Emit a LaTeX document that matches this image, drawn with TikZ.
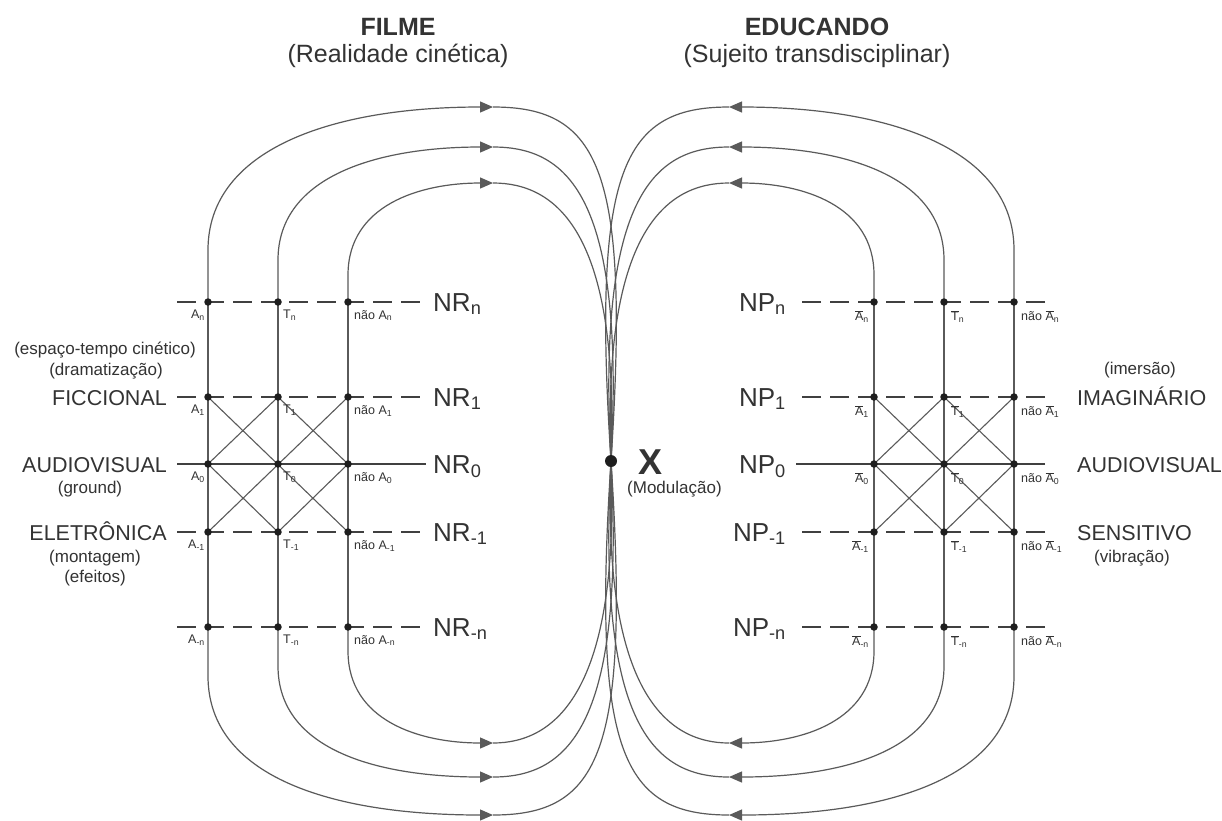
\documentclass[tikz,border=0pt]{standalone}
\usepackage{fontspec}
\setmainfont{Liberation Sans}
\usetikzlibrary{arrows.meta}
\definecolor{wiregray}{HTML}{5A5A5A}
\definecolor{rowgray}{HTML}{404040}
\definecolor{dotgray}{HTML}{1E1E1E}
\definecolor{inkgray}{HTML}{333333}
\newcommand\fsz[1]{\fontsize{#1}{#1}\selectfont}
\newcommand\ob[1]{\ensuremath{\overline{\hbox{#1}}}}

\begin{document}
\begin{tikzpicture}[x=1pt,y=-1pt,
  wire/.style={line width=1.2pt, draw=wiregray},
  flow/.style={wire, -{Triangle[length=13pt,width=11pt]}},
  diag/.style={line width=1.1pt, draw=wiregray},
  rowdash/.style={line width=2.2pt, draw=rowgray, dash pattern=on 19pt off 9pt},
  rowsolid/.style={line width=2pt, draw=rowgray},
  dot/.style={circle, fill=dotgray, inner sep=0pt, minimum size=7.5pt},
  xdot/.style={circle, fill=dotgray, inner sep=0pt, minimum size=12pt},
  ttl/.style={font=\fsz{25}\bfseries, text=inkgray, inner sep=0pt, anchor=base},
  sttl/.style={font=\fsz{25}, text=inkgray, inner sep=0pt, anchor=base},
  lvltxt/.style={font=\fsz{26}, text=inkgray, inner sep=0pt},
  cattxt/.style={font=\fsz{21.5}, text=inkgray, inner sep=0pt},
  notetxt/.style={font=\fsz{17}, text=inkgray, inner sep=0pt},
  tagtxt/.style={font=\fsz{12.5}, text=inkgray, inner sep=0pt}
]
\fill[white] (0,0) rectangle (1222,820);
\useasboundingbox (0,0) rectangle (1222,820);

% modulation point
\coordinate (mx) at (611,461);

% lattice points of both sides (mirrored about x = 611)
\foreach \side/\s/\dA/\dN in {L/-1/403/263, R/1/263/403}{
  \foreach \cl/\dd in {A/\dA, T/333, N/\dN}{
    \foreach \rw/\yy in {n/302, 1/397, 0/464, m/532, k/627}{
      \coordinate (\side\cl\rw) at ({611+(\s)*(\dd)},\yy);
    }
  }
  \foreach \rw/\yy in {n/302, 1/397, 0/464, m/532, k/627}{
    \coordinate (\side o\rw) at ({611+(\s)*434},\yy);
    \coordinate (\side i\rw) at ({611+(\s)*185},\yy);
  }
}

% levels, columns and crossings
\foreach \side in {L,R}{
  \foreach \rw in {n,1,m,k} \draw[rowdash] (\side o\rw) -- (\side i\rw);
  \draw[rowsolid] (\side o0) -- (\side i0);
  \foreach \cl in {A,T,N} \draw[wire] (\side\cl n) -- (\side\cl k);
  \draw[diag] (\side A1) -- (\side Nm);
  \draw[diag] (\side Am) -- (\side N1);
  \draw[diag] (\side T1) -- (\side A0) -- (\side Tm) -- (\side N0) -- cycle;
}

% flow loops from the columns into the modulation point
\foreach \side/\s/\co/\cm/\ci in {L/-1/A/T/N, R/1/N/T/A}{
  \coordinate (\side uo) at ({611+(\s)*118},107);
  \coordinate (\side um) at ({611+(\s)*118},147);
  \coordinate (\side ui) at ({611+(\s)*118},183);
  \coordinate (\side do) at ({611+(\s)*118},815);
  \coordinate (\side dm) at ({611+(\s)*118},777);
  \coordinate (\side di) at ({611+(\s)*118},743);
  % upper arcs
  \draw[flow] (\side\co n) -- ({611+(\s)*403},250) .. controls ({611+(\s)*403},150) and ({611+(\s)*281},107) .. (\side uo);
  \draw[wire] (\side uo) .. controls ({611+(\s)*11},107) and ({611+(\s)*(-19)},170) .. (mx);
  \draw[flow] (\side\cm n) -- ({611+(\s)*333},260) .. controls ({611+(\s)*333},175) and ({611+(\s)*231},147) .. (\side um);
  \draw[wire] (\side um) .. controls ({611+(\s)*41},147) and ({611+(\s)*(-14)},200) .. (mx);
  \draw[flow] (\side\ci n) -- ({611+(\s)*263},275) .. controls ({611+(\s)*263},205) and ({611+(\s)*191},183) .. (\side ui);
  \draw[wire] (\side ui) .. controls ({611+(\s)*56},183) and ({611+(\s)*(-9)},230) .. (mx);
  % lower arcs
  \draw[flow] (\side\co k) -- ({611+(\s)*403},676) .. controls ({611+(\s)*403},776) and ({611+(\s)*281},815) .. (\side do);
  \draw[wire] (\side do) .. controls ({611+(\s)*11},815) and ({611+(\s)*(-19)},752) .. (mx);
  \draw[flow] (\side\cm k) -- ({611+(\s)*333},666) .. controls ({611+(\s)*333},751) and ({611+(\s)*231},777) .. (\side dm);
  \draw[wire] (\side dm) .. controls ({611+(\s)*41},777) and ({611+(\s)*(-14)},722) .. (mx);
  \draw[flow] (\side\ci k) -- ({611+(\s)*263},651) .. controls ({611+(\s)*263},721) and ({611+(\s)*191},743) .. (\side di);
  \draw[wire] (\side di) .. controls ({611+(\s)*56},743) and ({611+(\s)*(-9)},692) .. (mx);
}

% dots
\foreach \side in {L,R}
  \foreach \cl in {A,T,N}
    \foreach \rw in {n,1,0,m,k}
      \node[dot] (\side\cl\rw d) at (\side\cl\rw) {};
\node[xdot] (mxd) at (mx) {};

% point tags
\foreach \rw/\sb in {n/n, 1/1, 0/0, m/-1, k/-n}{
  \node[tagtxt, anchor=north east, xshift=-3pt, yshift=-8pt] (LAt\rw) at (LA\rw) {A\textsubscript{\sb}};
  \node[tagtxt, anchor=north west, xshift=5pt, yshift=-8pt] (LTt\rw) at (LT\rw) {T\textsubscript{\sb}};
  \node[tagtxt, anchor=north west, xshift=6pt, yshift=-8pt] (LNt\rw) at (LN\rw) {não A\textsubscript{\sb}};
  \node[tagtxt, anchor=north east, xshift=-5pt, yshift=-8pt] (RAt\rw) at (RA\rw) {\ob{A}\textsubscript{\sb}};
  \node[tagtxt, anchor=north west, xshift=7pt, yshift=-8pt] (RTt\rw) at (RT\rw) {\ob{T}\textsubscript{\sb}};
  \node[tagtxt, anchor=north west, xshift=7pt, yshift=-8pt] (RNt\rw) at (RN\rw) {não \ob{A}\textsubscript{\sb}};
}

% level names
\node[lvltxt, anchor=base west] (nrn) at (433,311) {NR\textsubscript{n}};
\node[lvltxt, anchor=base west] (nr1) at (433,406) {NR\textsubscript{1}};
\node[lvltxt, anchor=base west] (nr0) at (433,473) {NR\textsubscript{0}};
\node[lvltxt, anchor=base west] (nrm) at (433,541) {NR\textsubscript{-1}};
\node[lvltxt, anchor=base west] (nrk) at (433,636) {NR\textsubscript{-n}};
\node[lvltxt, anchor=base east] (npn) at (786,311) {NP\textsubscript{n}};
\node[lvltxt, anchor=base east] (np1) at (786,406) {NP\textsubscript{1}};
\node[lvltxt, anchor=base east] (np0) at (786,473) {NP\textsubscript{0}};
\node[lvltxt, anchor=base east] (npm) at (786,541) {NP\textsubscript{-1}};
\node[lvltxt, anchor=base east] (npk) at (786,636) {NP\textsubscript{-n}};

% titles
\node[ttl] (filme) at (398,35) {FILME};
\node[sttl] (filmesub) at (398,62) {(Realidade cinética)};
\node[ttl] (educ) at (817,35) {EDUCANDO};
\node[sttl] (educsub) at (817,62) {(Sujeito transdisciplinar)};

% left categories
\node[notetxt] (espaco) at (105,350) {(espaço-tempo cinético)};
\node[notetxt] (drama) at (106,371) {(dramatização)};
\node[cattxt, anchor=base east] (ficc) at (167,405) {FICCIONAL};
\node[cattxt, anchor=base east] (avl) at (167,472) {AUDIOVISUAL};
\node[notetxt] (ground) at (90,489) {(ground)};
\node[cattxt, anchor=base east] (eletr) at (167,540) {ELETRÔNICA};
\node[notetxt] (mont) at (95,558) {(montagem)};
\node[notetxt] (efei) at (95,578) {(efeitos)};

% right categories
\node[notetxt] (imers) at (1140,370) {(imersão)};
\node[cattxt, anchor=base west] (imag) at (1077,405) {IMAGINÁRIO};
\node[cattxt, anchor=base west] (avr) at (1077,472) {AUDIOVISUAL};
\node[cattxt, anchor=base west] (sens) at (1077,540) {SENSITIVO};
\node[notetxt] (vibr) at (1132,558) {(vibração)};

% modulation label
\node[font=\fsz{36}\bfseries, text=inkgray, inner sep=0pt] (xlab) at (650,462) {X};
\node[notetxt, anchor=west] (modul) at (627,489) {(Modulação)};
\end{tikzpicture}
\end{document}
